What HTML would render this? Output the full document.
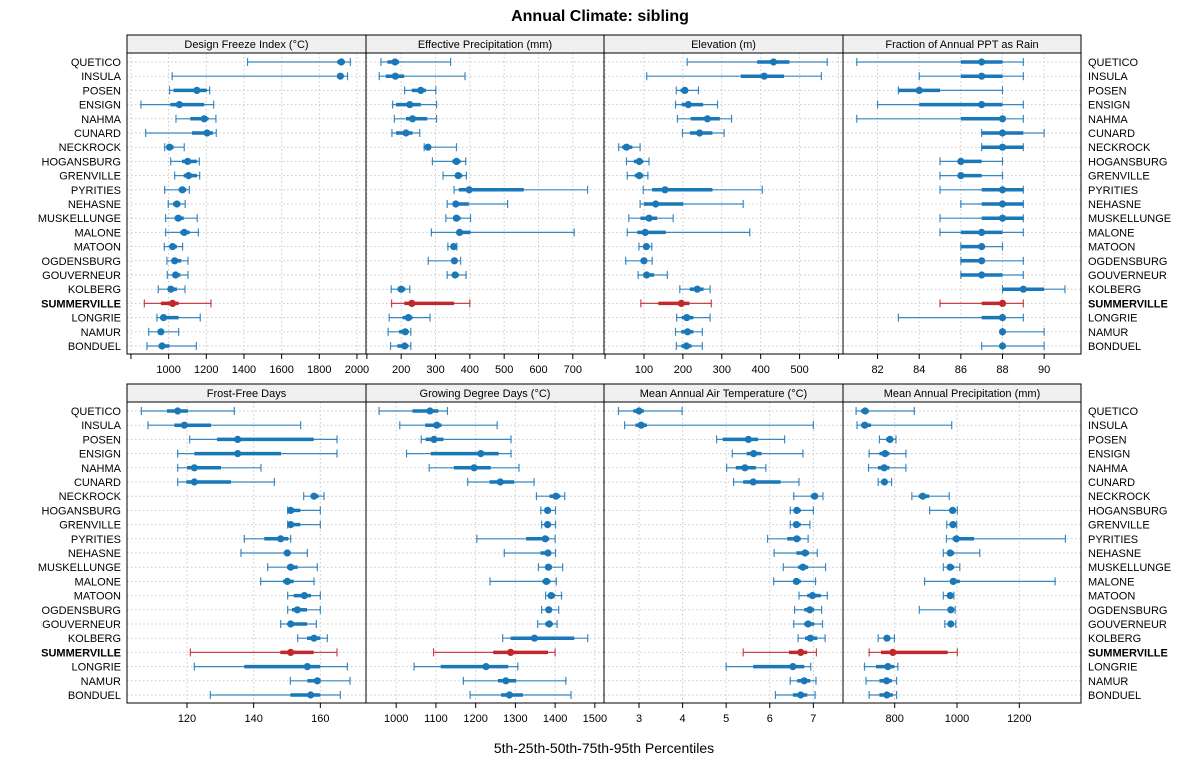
<!DOCTYPE html>
<html><head><meta charset="utf-8"><style>
body{margin:0;background:#fff;}
svg{display:block;font-family:"Liberation Sans",Arial,sans-serif;}
</style></head><body>
<svg id="chart" width="1200" height="775" viewBox="0 0 1200 775" xmlns="http://www.w3.org/2000/svg">
<text x="600" y="21" text-anchor="middle" font-size="16" font-weight="bold">Annual Climate: sibling</text>
<text x="604" y="753" text-anchor="middle" font-size="14">5th-25th-50th-75th-95th Percentiles</text>
</svg>
<script>
const sites = ["QUETICO","INSULA","POSEN","ENSIGN","NAHMA","CUNARD","NECKROCK","HOGANSBURG","GRENVILLE","PYRITIES","NEHASNE","MUSKELLUNGE","MALONE","MATOON","OGDENSBURG","GOUVERNEUR","KOLBERG","SUMMERVILLE","LONGRIE","NAMUR","BONDUEL"];
const highlightSite = "SUMMERVILLE";
const titles = ["Design Freeze Index (°C)","Effective Precipitation (mm)","Elevation (m)","Fraction of Annual PPT as Rain","Frost-Free Days","Growing Degree Days (°C)","Mean Annual Air Temperature (°C)","Mean Annual Precipitation (mm)"];
const freezeIndex = [[1419,1895,1917,1935,1965],[1019,1895,1912,1925,1950],[1005,1026,1150,1203,1218],[853,1009,1057,1189,1239],[1039,1115,1189,1212,1251],[878,1124,1204,1235,1253],[979,991,1005,1027,1083],[1011,1071,1101,1150,1163],[1032,1080,1106,1150,1165],[979,1053,1073,1094,1110],[998,1023,1044,1062,1088],[984,1032,1051,1080,1152],[984,1062,1083,1112,1158],[977,1005,1021,1044,1074],[991,1018,1032,1067,1103],[993,1021,1037,1062,1103],[945,995,1012,1044,1087],[871,959,1021,1053,1225],[938,956,973,1053,1168],[894,947,959,973,1053],[885,947,965,1005,1147]];
const effPrecip = [[141,160,182,194,344],[136,155,183,209,386],[210,231,257,272,301],[175,185,225,257,303],[180,214,233,276,303],[173,185,214,233,254],[267,272,278,286,361],[291,349,361,373,388],[322,357,366,378,390],[354,368,398,557,743],[334,351,359,397,510],[330,351,361,373,402],[288,363,370,402,704],[336,347,353,359,362],[279,351,355,363,373],[334,349,357,368,389],[171,189,200,212,225],[172,209,231,354,400],[165,204,221,233,284],[162,194,212,221,228],[169,189,210,221,228]];
const elevation = [[211,391,433,474,571],[107,349,409,460,556],[183,194,205,211,240],[181,197,214,252,289],[186,220,263,295,325],[199,218,243,276,306],[35,44,55,70,90],[55,74,88,98,113],[57,76,88,98,110],[98,121,154,276,404],[90,100,130,201,355],[61,91,113,134,175],[57,83,103,156,372],[87,98,106,113,120],[53,91,100,107,121],[85,98,107,126,160],[192,218,237,253,270],[92,137,196,217,273],[184,197,210,227,270],[181,196,212,227,250],[183,196,209,222,250]];
const rainFraction = [[81,86,87,88,89],[84,86,87,88,89],[83,83,84,85,88],[82,84,87,88,89],[81,86,88,88,89],[87,87,88,89,90],[87,87,88,89,89],[85,86,86,87,88],[85,86,86,87,88],[85,87,88,89,89],[86,87,88,89,89],[85,87,88,89,89],[85,86,87,88,89],[86,86,87,87,88],[86,86,87,87,89],[86,86,87,88,89],[88,88,89,90,91],[85,87,88,88,89],[83,87,88,88,89],[88,88,88,88,90],[87,88,88,88,90]];
const frostFree = [[106.3,114,117.2,120.3,134.2],[108.3,116.2,119.2,127.2,154.1],[120.8,129,135.2,158,165],[117.2,122.2,135.2,148.2,165],[117.2,120,122.2,130.2,142.2],[117.2,119.8,122.2,133.2,146.2],[155,157.2,158.1,159.5,161.1],[150.2,150.4,151.1,154,160],[150.2,150.4,151.1,154,160],[137.2,143.2,148.1,150.4,151.1],[136.2,149,150.1,151,156.1],[144.2,150,151.1,153.2,159.1],[142.1,148.8,150.1,152,158.1],[150.2,152,155.2,157.2,160],[150.2,151.5,153.1,156,160],[148.1,150.2,151.1,156,158.8],[153.2,156,158.1,160,162.1],[121,148,151.1,158,165],[122.2,137.2,156.1,160,168.1],[151,156.1,159.1,160,168.9],[127,151,157.1,160,166]];
const gdd = [[957,1041,1085,1106,1129],[1009,1073,1102,1114,1254],[1063,1074,1095,1119,1289],[1026,1087,1213,1258,1289],[1083,1145,1196,1238,1309],[1180,1235,1262,1297,1347],[1353,1386,1402,1413,1424],[1364,1375,1381,1388,1401],[1366,1375,1381,1388,1401],[1203,1327,1375,1385,1400],[1272,1363,1382,1388,1401],[1358,1375,1383,1392,1419],[1236,1368,1378,1388,1403],[1376,1382,1390,1400,1416],[1366,1377,1384,1392,1409],[1356,1375,1385,1394,1405],[1268,1288,1348,1448,1482],[1094,1244,1288,1382,1400],[1045,1112,1226,1282,1306],[1169,1256,1276,1302,1427],[1186,1264,1285,1319,1440]];
const maat = [[2.53,2.87,3.0,3.11,3.99],[2.67,2.92,3.05,3.18,7.0],[4.78,4.92,5.51,5.73,6.34],[5.14,5.47,5.63,5.81,6.76],[5.01,5.22,5.43,5.68,5.91],[5.17,5.39,5.62,6.25,6.67],[6.55,6.94,7.03,7.09,7.22],[6.47,6.56,6.62,6.71,7.0],[6.47,6.54,6.61,6.71,6.92],[5.95,6.4,6.62,6.71,6.88],[6.1,6.61,6.81,6.9,7.09],[6.31,6.65,6.76,6.88,7.28],[6.09,6.56,6.61,6.71,7.05],[6.67,6.86,6.98,7.17,7.32],[6.57,6.79,6.92,7.02,7.19],[6.55,6.79,6.88,7.02,7.21],[6.65,6.81,6.93,7.09,7.27],[5.39,6.44,6.71,6.86,7.07],[5.0,5.62,6.53,6.79,6.94],[6.47,6.63,6.79,6.93,7.06],[6.13,6.53,6.71,6.86,7.04]];
const map = [[676,692,705,717,863],[679,692,704,724,983],[751,772,785,794,804],[718,751,769,783,836],[716,746,766,783,836],[747,757,767,774,790],[855,877,890,911,975],[912,975,986,991,1001],[967,977,987,994,999],[966,986,998,1055,1348],[956,970,978,991,1073],[956,969,978,991,1009],[896,980,988,1009,1315],[956,969,978,986,990],[879,973,980,988,994],[961,973,980,988,996],[747,766,775,786,799],[718,756,794,970,1001],[703,740,778,799,810],[708,751,774,791,806],[718,751,775,794,806]];
const domains = [[779,2048],[97.5,790.8],[-2.8,611.6],[80.34,91.77],[102,173.7],[924,1523],[2.197,7.68],[634,1398]];
const tickLabels = [[1000,1200,1400,1600,1800,2000],[200,300,400,500,600,700],[100,200,300,400,500],[82,84,86,88,90],[120,140,160],[1000,1100,1200,1300,1400,1500],[3,4,5,6,7],[800,1000,1200]];
const extraTicks = [[800],[100],[0,600],[],[100],[],[2],[600]];
const seriesList = [freezeIndex,effPrecip,elevation,rainFraction,frostFree,gdd,maat,map];

const NS="http://www.w3.org/2000/svg";
const svg=document.getElementById('chart');
function mk(tag,attrs,parent){const e=document.createElementNS(NS,tag);for(const k in attrs)e.setAttribute(k,attrs[k]);(parent||svg).appendChild(e);return e;}
const colX=[127,366,604,843,1081];
const rows=[{strip:35,top:53,bot:354,y0:62},{strip:384,top:402,bot:703,y0:411}];
const step=14.2;
const BLUE="#1a77b8", RED="#c0282d";

for(let p=0;p<8;p++){
  const r=rows[Math.floor(p/4)], c=p%4;
  const x0=colX[c], x1=colX[c+1];
  const [d0,d1]=domains[p];
  const sx=v=>x0+(v-d0)/(d1-d0)*(x1-x0);
  const sy=i=>r.y0+i*step;
  const g=mk('g',{});
  
  
  const strip=mk('rect',{x:x0,y:r.strip,width:x1-x0,height:r.top-r.strip,fill:'#f0f0f0',stroke:'#000','stroke-width':1},g);
  
  
  const st=mk('text',{x:(x0+x1)/2,y:r.strip+13,'text-anchor':'middle','font-size':11},g);
  st.textContent=titles[p];
  
  
  const allTicks=tickLabels[p].concat(extraTicks[p]);
  allTicks.forEach(t=>{
    const x=sx(t); if(x<x0||x>x1) return;
    mk('line',{x1:x,x2:x,y1:r.top,y2:r.bot,stroke:'#c8c8c8','stroke-dasharray':'1.5,2.5','stroke-width':1},g);
    const tk=mk('line',{x1:x,x2:x,y1:r.bot,y2:r.bot+5,stroke:'#000','stroke-width':1},g);
    
    
  });
  tickLabels[p].forEach(t=>{
    const tl=mk('text',{x:sx(t),y:r.bot+19,'text-anchor':'middle','font-size':11},g);
    tl.textContent=t;
    
    
  });
  sites.forEach((s,i)=>{
    mk('line',{x1:x0,x2:x1,y1:sy(i),y2:sy(i),stroke:'#c8c8c8','stroke-dasharray':'1.5,2.5','stroke-width':1},g);
  });
  const data=seriesList[p];
  sites.forEach((s,i)=>{
    const v=data[i], y=sy(i), col=(s===highlightSite)?RED:BLUE;
    const mg=mk('g',{},g);
    
    
    mk('line',{x1:sx(v[0]),x2:sx(v[4]),y1:y,y2:y,stroke:col,'stroke-width':1.2,opacity:0.85},mg);
    mk('line',{x1:sx(v[0]),x2:sx(v[0]),y1:y-4,y2:y+4,stroke:col,'stroke-width':1.2,opacity:0.85},mg);
    mk('line',{x1:sx(v[4]),x2:sx(v[4]),y1:y-4,y2:y+4,stroke:col,'stroke-width':1.2,opacity:0.85},mg);
    mk('line',{x1:sx(v[1]),x2:sx(v[3]),y1:y,y2:y,stroke:col,'stroke-width':3.5},mg);
    mk('circle',{cx:sx(v[2]),cy:y,r:3.6,fill:col},mg);
  });
  const bd=mk('rect',{x:x0,y:r.top,width:x1-x0,height:r.bot-r.top,fill:'none',stroke:'#000','stroke-width':1},g);
  
  
}
rows.forEach((r,ri)=>{
  sites.forEach((s,i)=>{
    const y=r.y0+i*step+4;
    const bold=s===highlightSite?'bold':'normal';
    const l=mk('text',{x:121,y:y,'text-anchor':'end','font-size':11,'font-weight':bold});
    l.textContent=s;
    
    
    const rt=mk('text',{x:1088,y:y,'text-anchor':'start','font-size':11,'font-weight':bold});
    rt.textContent=s;
    
    
  });
});
</script>
</body></html>
